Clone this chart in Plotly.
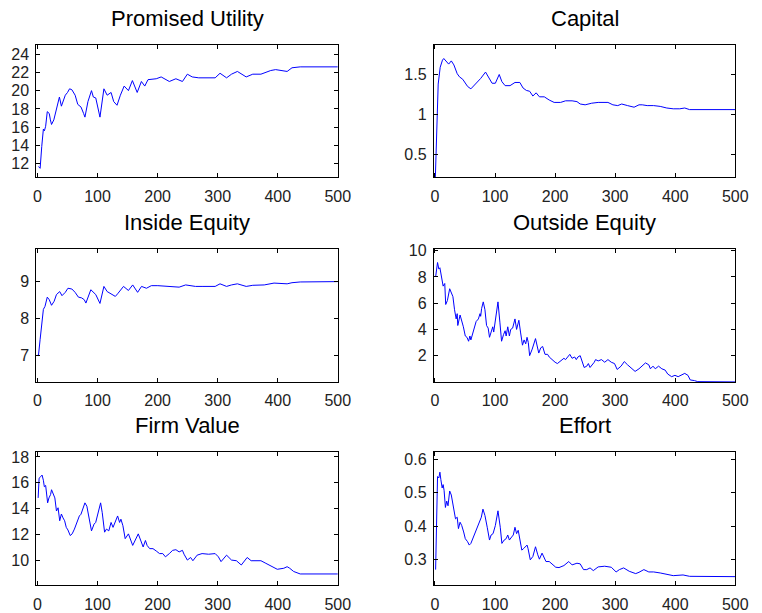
import plotly.graph_objects as go

# ---------------- data ----------------
pu_t = [1.6, 4.4, 7.1, 9.8, 11.5, 13.6, 16.3, 19.6, 21.5, 23.4, 27.2, 31.6, 34, 36.5, 39.8, 43, 46.3, 50,
        53.4, 57.2, 62.7, 67, 72.5, 76.8, 79, 84, 89.9, 93, 97, 104, 110.6, 116, 122.5, 126.9, 132.4, 138,
        144.3, 151.4, 158, 166, 173, 178.6, 184, 197.7, 205.9, 219.5, 230.4, 241.3, 249.5, 257.6, 268.5,
        295.8, 303.9, 314.8, 323, 332.8, 347.5, 358.4, 372, 388.3, 396.5, 415.6, 423.7, 437.4, 500]
pu_v = [11.7, 11.5, 13.9, 15.8, 15.6, 16.1, 17.7, 17.5, 16.8, 16.3, 16.8, 18.1, 18.5, 19.3, 18.3, 18.9, 19.5, 19.8,
        20.2, 20.1, 19.5, 18.5, 18.2, 17.5, 17.1, 18.8, 20.0, 19.3, 19.2, 17.1, 20.2, 19.5, 19.8, 18.8, 18.4, 19.5,
        20.5, 20.0, 21.1, 19.8, 21.0, 20.5, 21.2, 21.3, 21.5, 21.0, 21.3, 21.0, 21.8, 21.5, 21.4,
        21.4, 21.9, 21.4, 21.8, 22.1, 21.5, 21.8, 21.8, 22.2, 22.3, 22.1, 22.5, 22.6, 22.6]

cap_t = [0.5, 2.5, 5.4, 8.7, 12.5, 14.7, 19, 22.8, 27.2, 31.5, 37, 40.8, 46.2, 54.3, 59.8, 65.2, 76.1, 84.2,
         89.7, 95.1, 100.5, 107, 111.4, 116.8, 125, 133.2, 141.3, 146.7, 152.2, 157.6, 163, 168.5, 173.9, 182,
         190.2, 198.4, 209.2, 217.4, 228.3, 236.4, 241.8, 250, 260.9, 271.7, 288, 296.2, 304.3, 310.9, 320.7,
         331.5, 339.7, 345.1, 353.3, 364.1, 375, 385.9, 396.7, 407.6, 415.8, 423.9, 500]
cap_v = [0.17, 0.77, 1.38, 1.59, 1.68, 1.70, 1.66, 1.63, 1.67, 1.62, 1.51, 1.47, 1.44, 1.35, 1.32, 1.36, 1.45, 1.53,
         1.45, 1.39, 1.39, 1.50, 1.41, 1.36, 1.36, 1.40, 1.40, 1.33, 1.30, 1.29, 1.23, 1.27, 1.22, 1.22,
         1.18, 1.15, 1.15, 1.17, 1.17, 1.16, 1.13, 1.12, 1.14, 1.15, 1.15, 1.12, 1.11, 1.13, 1.11,
         1.09, 1.12, 1.12, 1.11, 1.11, 1.10, 1.08, 1.07, 1.07, 1.08, 1.06, 1.06]

ie_t = [0, 1.6, 4.4, 7.1, 9.8, 12.5, 16.3, 19.6, 23.4, 27.8, 31.6, 37, 40.8, 46.3, 50.7, 57.2, 62.6, 68.1,
        73.5, 77.9, 80.6, 88.8, 97, 104, 110.6, 116, 121.5, 129.6, 133.4, 143.2, 151.4, 158.5, 166.7, 173.2,
        181.4, 189.5, 200.4, 214, 225, 235.8, 246.7, 252.2, 263, 274, 295.8, 303.9, 314.8, 323, 332.8, 347.5,
        358.4, 377.5, 393.8, 415.6, 423.7, 437.4, 500]
ie_v = [7.0, 6.99, 7.43, 7.88, 8.24, 8.32, 8.57, 8.5, 8.35, 8.46, 8.64, 8.72, 8.61, 8.7, 8.81, 8.79, 8.7, 8.57,
        8.55, 8.5, 8.41, 8.77, 8.64, 8.4, 8.86, 8.72, 8.66, 8.59, 8.66, 8.86, 8.75, 8.9, 8.7, 8.86,
        8.81, 8.88, 8.88, 8.86, 8.84, 8.84, 8.9, 8.88, 8.86, 8.86, 8.86, 8.93, 8.86, 8.9, 8.93, 8.86,
        8.89, 8.9, 8.95, 8.93, 8.96, 8.98, 8.99]

oe_t = [1.1, 4.3, 6.5, 8.2, 13.6, 16.3, 17.9, 20.7, 24.5, 27.2, 29.9, 32.6, 35.3, 37, 38, 41.8, 45.1, 47.3,
        50.5, 53.3, 56, 58.2, 59.8, 65.2, 68.5, 72.3, 75, 76.1, 77.7, 80.4, 83.2, 85.9, 88.6, 90.8, 93.5,
        96.2, 97.8, 101.1, 104.9, 108.2, 110.9, 114.1, 116.8, 118.5, 121.2, 123.9, 126.1, 129.3, 133.2,
        135.9, 139.7, 142.4, 145.7, 148.4, 151.1, 153.3, 155.4, 157.6, 161.9, 167.4, 170.1, 172.8, 176.1,
        179.3, 183.2, 187.5, 190.2, 194.6, 200, 203.8, 209.2, 214.7, 217.4, 221.7, 224.5, 228.3, 232.6,
        235.3, 238, 241.8, 245.7, 248.4, 252.7, 255.4, 258.2, 262, 265.2, 267.4, 271.7, 277.2, 282.6, 288,
        293.5, 298.9, 303.3, 309.8, 315.2, 320.7, 326.1, 333.2, 339.7, 345.1, 350.5, 356, 358.7, 363,
        366.8, 372.3, 377.7, 383.2, 387.5, 394, 399.5, 404.9, 410.3, 415.8, 421.2, 425, 432.1, 437.5, 500]
oe_v = [8.0, 9.1, 8.6, 8.7, 7.3, 7.5, 5.9, 6.2, 7.1, 6.8, 6.5, 5.5, 4.8, 5.2, 4.3, 5.1, 4.6, 4.2,
        3.5, 3.4, 3.1, 3.5, 3.2, 4.0, 4.6, 4.8, 5.2, 5.0, 5.6, 6.1, 5.5, 4.3, 4.1, 3.4, 3.9,
        4.2, 3.8, 4.8, 6.1, 4.5, 3.1, 3.6, 3.9, 3.5, 4.2, 3.5, 4.0, 4.1, 4.8,
        4.0, 4.7, 3.8, 2.8, 3.2, 2.9, 3.4, 3.0, 2.0, 2.5, 3.3, 2.8, 2.2, 2.6,
        2.7, 2.1, 2.1, 1.9, 1.7, 1.5, 1.4, 1.6, 1.8, 1.7, 1.9, 2.1, 1.8, 1.9,
        1.7, 1.9, 2.0, 1.5, 1.1, 1.2, 1.4, 1.1, 1.3, 1.5, 1.7, 1.6, 1.7, 1.5, 1.7,
        1.5, 1.4, 0.95, 1.2, 1.55, 1.3, 1.1, 0.8, 1.0, 1.2, 1.45, 1.3, 1.0, 1.2,
        1.0, 1.2, 1.0, 0.9, 0.6, 0.4, 0.5, 0.4, 0.5, 0.65, 0.5, 0.15, 0.1, 0.02, 0.0]

fv_t = [1.1, 2.7, 5.4, 7.6, 9.8, 11.4, 13.6, 15.3, 16.9, 19.1, 21.8, 23.4, 26.1, 28.9, 31.6, 34.3, 37, 39.8,
        42.5, 45.2, 47.9, 50.7, 54.5, 57.7, 61.5, 65.9, 69.7, 72.4, 75.2, 79, 82.2, 86.1, 89.9, 94.2, 96.9,
        105.1, 107.8, 111.7, 114.9, 118.7, 122.5, 125.8, 129.6, 133.4, 136.7, 138.9, 142.2, 146, 151.4,
        155.2, 158.5, 167.8, 171.6, 175.9, 179.7, 182.5, 186.8, 192.3, 197.7, 203.2, 208.6, 213, 219.5,
        225, 230.4, 235.8, 241.3, 244, 249.5, 254.9, 258.7, 265.8, 274, 284.9, 295.8, 301.2, 305.6, 314.8,
        323, 331.2, 339.3, 349.1, 355.7, 363.8, 372, 380.2, 388.3, 399.2, 410.1, 415.6, 419.9, 426.5,
        437.4, 500]
fv_v = [14.84, 16.36, 16.48, 16.6, 16.2, 15.7, 15.8, 15.3, 14.46, 14.84, 15.1, 15.47, 15.1, 14.84, 13.83, 14.08,
        13.08, 13.6, 13.3, 13.08, 12.57, 12.37, 11.94, 12.07, 12.44, 13.08, 13.45, 13.58, 13.96, 14.46, 14.2,
        13.2, 12.3, 12.82, 12.95, 14.46, 13.7, 12.2, 12.44, 12.3, 12.95, 12.57, 13.08, 13.45, 12.95, 13.2,
        12.7, 11.7, 12.07, 11.56, 11.18, 12.07, 11.56, 11.06, 11.56, 11.18, 10.93, 10.93, 10.75, 10.55,
        10.55, 10.3, 10.55, 10.8, 10.85, 10.68, 10.8, 10.5, 10.05, 10.25, 10.0, 10.43, 10.55, 10.5, 10.55,
        10.3, 9.93, 10.43, 10.05, 10.0, 9.67, 10.25, 10.0, 10.0, 10.0, 9.8, 9.6, 9.34, 9.42, 9.54, 9.42,
        9.17, 8.98, 8.98]

ef_t = [1.1, 4.3, 6.5, 8.2, 9.8, 12, 13.6, 15.2, 17.4, 19.6, 21.7, 24.5, 27.2, 28.8, 31.5, 34.2, 37, 39.1,
        41.8, 44.6, 47.8, 50.5, 54.3, 57.1, 59.8, 64.1, 67.9, 71.7, 75, 77.2, 79.9, 83.2, 87, 90.8, 93.5,
        96.7, 100.5, 104.9, 108.7, 111.4, 115.2, 118.5, 121.2, 123.9, 127.7, 130.4, 133.2, 135.9, 138.6,
        141.3, 144.6, 147.8, 151.1, 153.3, 154.9, 158.7, 163, 167.4, 171.2, 173.9, 178.3, 182.1, 184.8,
        190.2, 195.7, 201.1, 206.5, 214.7, 222.8, 228.3, 236.4, 241.8, 247.3, 252.7, 258.2, 263.6, 271.7,
        282.6, 293.5, 301.6, 307.1, 314.1, 323.4, 334.2, 339.7, 347.8, 356, 364.1, 375, 385.9, 396.7, 413,
        423.9, 500]
ef_v = [0.271, 0.548, 0.544, 0.561, 0.539, 0.514, 0.524, 0.507, 0.456, 0.475, 0.461, 0.505, 0.493, 0.475, 0.451,
        0.422, 0.427, 0.393, 0.412, 0.402, 0.383, 0.363, 0.354, 0.344, 0.349, 0.368, 0.383, 0.402, 0.412, 0.427,
        0.451, 0.432, 0.397, 0.359, 0.374, 0.378, 0.402, 0.446, 0.397, 0.349, 0.359, 0.363, 0.374, 0.359,
        0.368, 0.374, 0.397, 0.378, 0.388, 0.363, 0.329, 0.334, 0.339, 0.344, 0.334, 0.300, 0.310, 0.339,
        0.315, 0.302, 0.320, 0.305, 0.295, 0.295, 0.285, 0.278, 0.277, 0.283, 0.295, 0.285, 0.290, 0.288,
        0.271, 0.271, 0.276, 0.268, 0.279, 0.281, 0.278, 0.264, 0.271, 0.276, 0.266, 0.259, 0.263, 0.271,
        0.264, 0.264, 0.261, 0.256, 0.253, 0.255, 0.251, 0.250]

titles = ["Promised Utility", "Capital", "Inside Equity", "Outside Equity", "Firm Value", "Effort"]
series = [(pu_t, pu_v), (cap_t, cap_v), (ie_t, ie_v), (oe_t, oe_v), (fv_t, fv_v), (ef_t, ef_v)]
y_ticks = [[12, 14, 16, 18, 20, 22, 24], [0.5, 1, 1.5], [7, 8, 9], [2, 4, 6, 8, 10],
           [10, 12, 14, 16, 18], [0.3, 0.4, 0.5, 0.6]]
y_ticktext = [["12", "14", "16", "18", "20", "22", "24"], ["0.5", "1", "1.5"], ["7", "8", "9"],
              ["2", "4", "6", "8", "10"], ["10", "12", "14", "16", "18"], ["0.3", "0.4", "0.5", "0.6"]]
y_ranges = [[10.5, 25.0], [0.21, 1.87], [6.28, 9.86], [0.0, 10.1], [8.1, 18.35], [0.224, 0.62]]
x_ticks = [0, 100, 200, 300, 400, 500]

# ---------------- layout ----------------
W, H = 762, 613
col_px = [(34, 342), (440, 748)]
row_px = [(38.5, 173), (246, 380.5), (452, 587)]
FONT = "Arial, Liberation Sans, Helvetica, sans-serif"

fig = go.Figure()
layout = dict(width=W, height=H, margin=dict(l=0, r=0, t=0, b=0),
              paper_bgcolor="white", plot_bgcolor="white", showlegend=False,
              font=dict(family=FONT, size=16, color="black"))
annotations = []
for i in range(6):
    r, c = divmod(i, 2)
    xa = "xaxis" if i == 0 else f"xaxis{i+1}"
    ya = "yaxis" if i == 0 else f"yaxis{i+1}"
    xr = "x" if i == 0 else f"x{i+1}"
    yr = "y" if i == 0 else f"y{i+1}"
    x0, x1 = col_px[c]
    t0, t1 = row_px[r]
    common = dict(showline=True, mirror="ticks", linecolor="black", linewidth=1, ticks="inside",
                  ticklen=4, tickcolor="black", tickwidth=1, showgrid=False, zeroline=False,
                  tickfont=dict(family=FONT, size=16, color="#222"))
    layout[xa] = dict(domain=[x0 / W, x1 / W], anchor=yr, range=[-2, 500], tickvals=x_ticks,
                      ticklabelstandoff=4, **common)
    layout[ya] = dict(domain=[1 - t1 / H, 1 - t0 / H], anchor=xr, range=y_ranges[i],
                      tickvals=y_ticks[i], ticktext=y_ticktext[i], ticklabelstandoff=3, **common)
    tx, ty = series[i]
    fig.add_trace(go.Scatter(x=tx, y=ty, mode="lines", line=dict(color="#0000ff", width=1),
                             xaxis=xr, yaxis=yr, hoverinfo="skip"))
    annotations.append(dict(text=titles[i], xref=f"{xr} domain", yref=f"{yr} domain", x=0.5, y=1,
                            xanchor="center", yanchor="bottom", yshift=12, showarrow=False,
                            font=dict(family=FONT, size=22, color="black")))
layout["annotations"] = annotations
fig.update_layout(**layout)
fig.write_html("out.html", config={"displayModeBar": False, "staticPlot": True},
               post_script="document.body.style.margin='0';document.body.style.overflow='hidden';")
